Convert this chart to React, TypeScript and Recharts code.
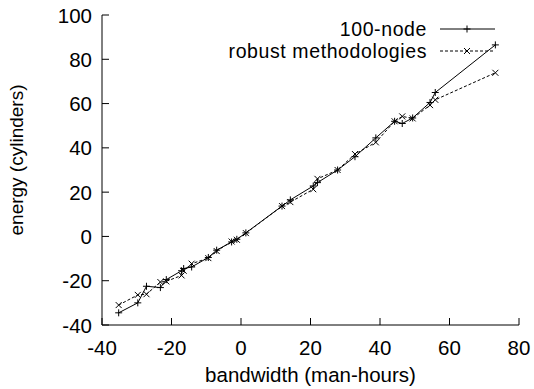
import React from 'react';
import { LineChart, Line, XAxis, YAxis } from 'recharts';

const bandwidth = [-35.2, -29.7, -27.2, -23.2, -21.5, -17.1, -16.5, -14.2, -9.4, -7.0, -2.7, -1.2, 1.4, 11.8, 14.2, 20.8, 22.0, 27.8, 32.8, 38.8, 44.2, 46.4, 49.4, 54.4, 55.9, 73.2];
const nodeEnergy = [-34.5, -30, -22.5, -23.1, -19.5, -15.5, -14.5, -13.8, -9.5, -6.2, -2.5, -1.3, 1.6, 13.7, 16.5, 22.8, 24.3, 30, 36, 44.5, 52, 51, 53.5, 60.5, 65, 86.5];
const robustEnergy = [-31, -26.4, -26.1, -20.6, -20.3, -17.6, -15.5, -12.3, -9.8, -6.6, -2.3, -1.5, 1.5, 13.7, 15.5, 21.3, 26, 30, 37.2, 42.5, 52, 54.2, 53.3, 59.3, 61.7, 73.9];

const xTicks = [-40, -20, 0, 20, 40, 60, 80];
const yTicks = [-40, -20, 0, 20, 40, 60, 80, 100];
const seriesNames = ['100-node', 'robust methodologies'];

const nodeData = bandwidth.map((x, i) => ({ x, y: nodeEnergy[i] }));
const robustData = bandwidth.map((x, i) => ({ x, y: robustEnergy[i] }));

const FONT = '"Liberation Sans", Arial, Helvetica, sans-serif';
const FS = 20.5;
const TICK = 7;

function PlusDot(props: any) {
    const { cx, cy } = props;
    if (cx == null || cy == null) return null;
    const r = 3.5;
    return (
        <path d={`M${cx - r},${cy}H${cx + r}M${cx},${cy - r}V${cy + r}`} stroke="#000" strokeWidth={1} fill="none" />
    );
}

function CrossDot(props: any) {
    const { cx, cy } = props;
    if (cx == null || cy == null) return null;
    const r = 3;
    return (
        <path d={`M${cx - r},${cy - r}L${cx + r},${cy + r}M${cx - r},${cy + r}L${cx + r},${cy - r}`} stroke="#000" strokeWidth={1} fill="none" />
    );
}

function BottomTick({ x, y, payload }: any) {
    return (
        <g>
            <line x1={x} x2={x} y1={y} y2={y - TICK} stroke="#000" />
            <text x={x} y={y + 30} textAnchor="middle" fontSize={FS} fontFamily={FONT} fill="#000">{payload.value}</text>
        </g>
    );
}

function TopTick({ x, y }: any) {
    return <line x1={x} x2={x} y1={y} y2={y + TICK} stroke="#000" />;
}

function LeftTick({ x, y, payload }: any) {
    return (
        <g>
            <line x1={x} x2={x + TICK} y1={y} y2={y} stroke="#000" />
            <text x={x - 10} y={y + 7.5} textAnchor="end" fontSize={FS} fontFamily={FONT} fill="#000">{payload.value}</text>
        </g>
    );
}

function RightTick({ x, y }: any) {
    return <line x1={x} x2={x - TICK} y1={y} y2={y} stroke="#000" />;
}

function Legend() {
    const rows = [
        { name: seriesNames[0], dash: undefined, Dot: PlusDot },
        { name: seriesNames[1], dash: '3 2', Dot: CrossDot },
    ];
    return (
        <svg width={534} height={70} style={{ position: 'absolute', left: 0, top: 0, pointerEvents: 'none' }}>
            {rows.map((r, i) => {
                const cy = 29 + i * 22;
                return (
                    <g key={r.name}>
                        <text x={427} y={cy + 7} textAnchor="end" fontSize={19.5} letterSpacing={0.6} fontFamily={FONT} fill="#000">{r.name}</text>
                        <line x1={440} x2={495} y1={cy} y2={cy} stroke="#000" strokeDasharray={r.dash} />
                        <r.Dot cx={467} cy={cy} />
                    </g>
                );
            })}
        </svg>
    );
}

export default function App() {
    return (
        <div style={{ position: 'absolute', left: 0, top: 0, width: 534, height: 389, background: '#fff' }}>
            <LineChart width={534} height={389} margin={{ top: 15, right: 15, bottom: 0, left: 0 }}>
                <XAxis
                    dataKey="x"
                    type="number"
                    domain={[-40, 80]}
                    ticks={xTicks}
                    interval={0}
                    height={64}
                    tickSize={0}
                    tickMargin={0}
                    tickLine={false}
                    tick={<BottomTick />}
                    axisLine={{ stroke: '#000' }}
                    label={{
                        content: ({ viewBox }: any) => (
                            <text x={viewBox.x + viewBox.width / 2} y={382} textAnchor="middle" fontSize={FS} fontFamily={FONT} fill="#000">
                                bandwidth (man-hours)
                            </text>
                        ),
                    }}
                />
                <XAxis
                    xAxisId="top"
                    orientation="top"
                    dataKey="x"
                    type="number"
                    domain={[-40, 80]}
                    ticks={xTicks}
                    interval={0}
                    height={0}
                    tickSize={0}
                    tickMargin={0}
                    tickLine={false}
                    tick={<TopTick />}
                    axisLine={{ stroke: '#000' }}
                />
                <YAxis
                    dataKey="y"
                    type="number"
                    domain={[-40, 100]}
                    ticks={yTicks}
                    interval={0}
                    width={102}
                    tickSize={0}
                    tickMargin={0}
                    tickLine={false}
                    tick={<LeftTick />}
                    axisLine={{ stroke: '#000' }}
                    label={{
                        content: ({ viewBox }: any) => {
                            const lx = 23;
                            const ly = viewBox.y + viewBox.height / 2 - 10;
                            return (
                                <text x={lx} y={ly} transform={`rotate(-90 ${lx} ${ly})`} textAnchor="middle" fontSize={19} fontFamily={FONT} fill="#000">
                                    energy (cylinders)
                                </text>
                            );
                        },
                    }}
                />
                <YAxis
                    yAxisId="right"
                    orientation="right"
                    type="number"
                    domain={[-40, 100]}
                    ticks={yTicks}
                    interval={0}
                    width={0}
                    tickSize={0}
                    tickMargin={0}
                    tickLine={false}
                    tick={<RightTick />}
                    axisLine={{ stroke: '#000' }}
                />
                <Line
                    data={nodeData}
                    dataKey="y"
                    name={seriesNames[0]}
                    type="linear"
                    stroke="#000"
                    strokeWidth={1}
                    dot={(p: any) => <PlusDot key={`n${p.index}`} {...p} />}
                    activeDot={false}
                    isAnimationActive={false}
                />
                <Line
                    data={robustData}
                    dataKey="y"
                    name={seriesNames[1]}
                    type="linear"
                    stroke="#000"
                    strokeWidth={1}
                    strokeDasharray="3 2"
                    dot={(p: any) => <CrossDot key={`r${p.index}`} {...p} />}
                    activeDot={false}
                    isAnimationActive={false}
                />
            </LineChart>
            <Legend />
        </div>
    );
}
